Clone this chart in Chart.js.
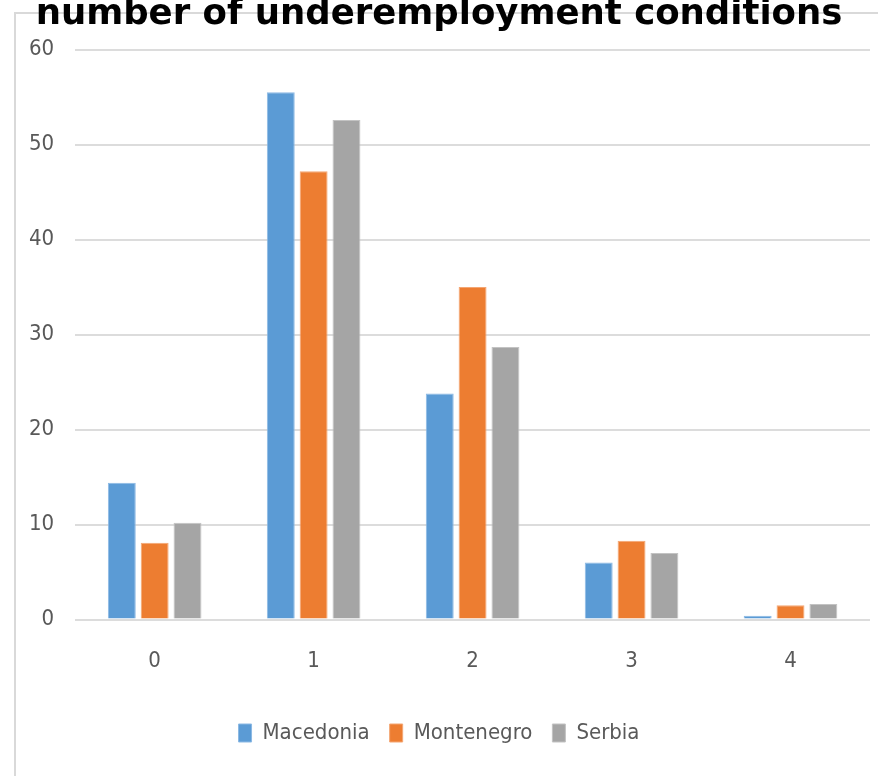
<!DOCTYPE html>
<html>
<head>
<meta charset="utf-8">
<script src="https://cdn.jsdelivr.net/npm/chart.js@4"></script>
<style>
  html, body { margin: 0; padding: 0; background: #fff; }
  #wrap { position: relative; width: 878px; height: 776px; overflow: hidden; }
  #underChart { position: absolute; left: 0; top: -7px; }
</style>
</head>
<body>
<div id="wrap"><canvas id="underChart" width="878" height="783"></canvas></div>
<script>
const categories = ["0", "1", "2", "3", "4"];
const macedonia = [14.4, 55.5, 23.8, 6.0, 0.4];
const montenegro = [8.1, 47.2, 35.0, 8.3, 1.5];
const serbia = [10.2, 52.6, 28.7, 7.0, 1.65];
const yTicks = [0, 10, 20, 30, 40, 50, 60];

const narrow = "'DejaVu Sans Condensed', 'Liberation Sans', sans-serif";

// light frame lines (left and top) like the original picture
const frame = {
    id: 'frame',
    beforeDraw(chart) {
        const ctx = chart.ctx;
        ctx.save();
        ctx.strokeStyle = '#d9d9d9';
        ctx.lineWidth = 2;
        ctx.beginPath();
        ctx.moveTo(878, 20);
        ctx.lineTo(15, 20);
        ctx.lineTo(15, 783);
        ctx.stroke();
        ctx.restore();
    }
};

new Chart(document.getElementById("underChart"), {
    type: 'bar',
    data: {
        labels: categories,
        datasets: [
            { label: 'Macedonia', data: macedonia, backgroundColor: '#5b9bd5', borderColor: '#8cb9e4', borderWidth: 1 },
            { label: 'Montenegro', data: montenegro, backgroundColor: '#ed7d31', borderColor: '#f4a673', borderWidth: 1 },
            { label: 'Serbia', data: serbia, backgroundColor: '#a5a5a5', borderColor: '#c3c3c3', borderWidth: 1 }
        ]
    },
    options: {
        responsive: false,
        animation: false,
        layout: { padding: { left: 8, right: 8, top: 0, bottom: 22 } },
        datasets: {
            bar: { categoryPercentage: 0.62, barPercentage: 0.85 }
        },
        plugins: {
            title: {
                display: true,
                text: 'number of underemployment conditions',
                color: '#000',
                font: { family: "'DejaVu Sans', sans-serif", size: 35.5, weight: 'bold' },
                padding: { top: 0, bottom: 14 }
            },
            legend: {
                position: 'bottom',
                labels: {
                    boxWidth: 13,
                    boxHeight: 18,
                    padding: 20,
                    color: '#595959',
                    font: { family: narrow, size: 22 }
                }
            },
            tooltip: { enabled: false }
        },
        scales: {
            x: {
                grid: { display: false, drawTicks: false },
                border: { display: false },
                ticks: { color: '#595959', padding: 28, font: { family: narrow, size: 22 } }
            },
            y: {
                min: 0,
                max: 60,
                afterBuildTicks(axis) { axis.ticks = yTicks.map(v => ({ value: v })); },
                grid: { color: '#dcdcdc', lineWidth: 2, drawTicks: false },
                border: { display: false },
                ticks: { color: '#595959', padding: 21, font: { family: narrow, size: 22 } }
            }
        }
    },
    plugins: [frame]
});
</script>
</body>
</html>
